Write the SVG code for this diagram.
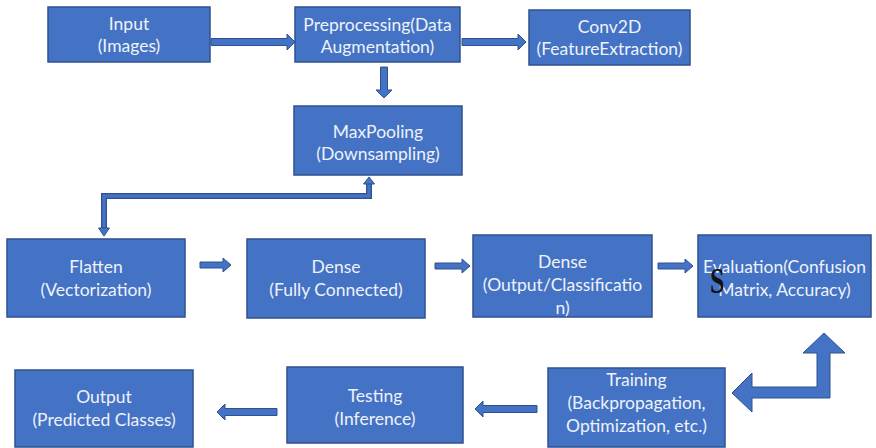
<svg xmlns="http://www.w3.org/2000/svg" width="876" height="448" viewBox="0 0 876 448">
<style>
.box{fill:#4472C4;stroke:#2F528F;stroke-width:1.5}
.t{font-family:Lato,"Liberation Sans",sans-serif;font-size:17.5px;fill:#eef2fa;text-anchor:middle}
.ar{fill:#4472C4;stroke:#2F528F;stroke-width:1}
.lo{fill:none;stroke:#2F528F;stroke-width:6;stroke-linejoin:miter}
.li{fill:none;stroke:#4472C4;stroke-width:3.5;stroke-linejoin:miter}
</style>
<rect width="876" height="448" fill="#ffffff"/>
<g id="connectors">
<polygon class="ar" points="211,38.5 287,38.5 287,34 295,42 287,50 287,45.5 211,45.5"/>
<polygon class="ar" points="462,38.5 518,38.5 518,34 526,42 518,50 518,45.5 462,45.5"/>
<polygon class="ar" points="380.5,67 387.5,67 387.5,90 392,90 384,98 376,90 380.5,90"/>
<polygon class="ar" points="200,262 223,262 223,258 231,265 223,272 223,268 200,268"/>
<polygon class="ar" points="435,263 462,263 462,259 470,266 462,273 462,269 435,269"/>
<polygon class="ar" points="658,263 685,263 685,259 693,266 685,273 685,269 658,269"/>
<polygon class="ar" points="277,408.5 225,408.5 225,404 217,412 225,420 225,415.5 277,415.5"/>
<polygon class="ar" points="537,405.5 483,405.5 483,401 475,409 483,417 483,412.5 537,412.5"/>
<polyline class="lo" points="104,228 104,196 369,196 369,184"/>
<polyline class="li" points="104,228 104,196 369,196 369,184"/>
<polygon class="ar" points="98.5,228 109.5,228 104,236"/>
<polygon class="ar" points="363.5,184 374.5,184 369,177"/>
<polygon class="ar" points="824,333 845,353 830,353 830,398 752,398 752,412 732,393 752,373 752,387 817,387 817,353 803,353"/>
</g>
<g id="input"><rect class="box" x="48" y="7" width="162" height="55"/>
<text class="t" x="129" y="30">Input</text><text class="t" x="129" y="52">(Images)</text></g>
<g id="preprocessing"><rect class="box" x="295" y="7" width="165" height="55"/>
<text class="t" x="377.5" y="31">Preprocessing(Data</text><text class="t" x="377.5" y="53">Augmentation)</text></g>
<g id="conv2d"><rect class="box" x="529" y="10" width="161" height="55"/>
<text class="t" x="609.5" y="33">Conv2D</text><text class="t" x="609.5" y="55">(FeatureExtraction)</text></g>
<g id="maxpooling"><rect class="box" x="294" y="106" width="168" height="69"/>
<text class="t" x="378" y="138">MaxPooling</text><text class="t" x="378" y="160">(Downsampling)</text></g>
<g id="flatten"><rect class="box" x="7" y="239" width="178" height="78"/>
<text class="t" x="96" y="273">Flatten</text><text class="t" x="96" y="296">(Vectorization)</text></g>
<g id="dense1"><rect class="box" x="247" y="239" width="178" height="79"/>
<text class="t" x="336" y="273">Dense</text><text class="t" x="336" y="296">(Fully Connected)</text></g>
<g id="dense2"><rect class="box" x="473" y="235" width="179" height="82"/>
<text class="t" x="562.5" y="268">Dense</text><text class="t" x="562.5" y="291">(Output/Classificatio</text><text class="t" x="562.5" y="314">n)</text></g>
<g id="evaluation"><rect class="box" x="698" y="235" width="173" height="82"/>
<text class="t" x="784.5" y="273">Evaluation(Confusion</text><text class="t" x="784.5" y="296">Matrix, Accuracy)</text>
<text transform="translate(710,293) scale(0.72,1)" font-family="'Liberation Serif',serif" font-weight="bold" font-size="36" fill="#111111">S</text></g>
<g id="training"><rect class="box" x="548" y="368" width="177" height="79"/>
<text class="t" x="636.5" y="386">Training</text><text class="t" x="636.5" y="409">(Backpropagation,</text><text class="t" x="636.5" y="432">Optimization, etc.)</text></g>
<g id="testing"><rect class="box" x="287" y="367" width="176" height="76"/>
<text class="t" x="375" y="402">Testing</text><text class="t" x="375" y="425">(Inference)</text></g>
<g id="output"><rect class="box" x="15" y="370" width="178" height="77"/>
<text class="t" x="104" y="403">Output</text><text class="t" x="104" y="426">(Predicted Classes)</text></g>
</svg>
